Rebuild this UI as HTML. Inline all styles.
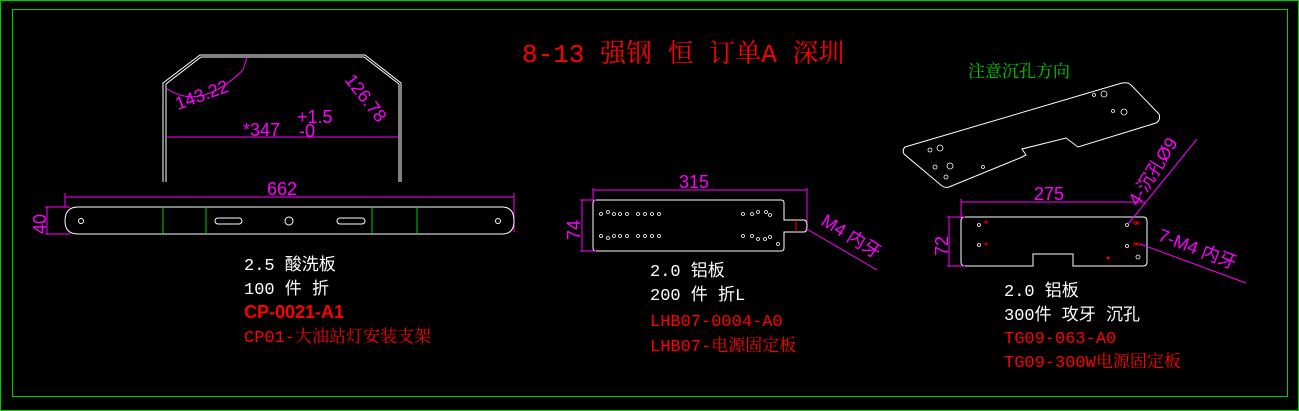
<!DOCTYPE html>
<html><head><meta charset="utf-8"><style>
html,body{margin:0;padding:0;background:#000;}
svg{display:block}
.w{fill:#fff;font-family:"Liberation Mono","Noto Sans CJK SC",monospace;font-size:17px}
.r{fill:#f00;font-family:"Liberation Mono","Noto Serif CJK SC",monospace;font-size:17px}
.m{fill:#f0f;font-family:"Liberation Sans","Noto Sans CJK SC",sans-serif;font-size:18px}
</style></head><body>
<svg width="1299" height="411" viewBox="0 0 1299 411" xmlns="http://www.w3.org/2000/svg">
<rect x="0.5" y="0.5" width="1298" height="410" fill="none" stroke="#0c0"/>
<rect x="12.5" y="9.5" width="1275" height="387" fill="none" stroke="#0c0"/>
<text x="522" y="62" fill="#f00" font-family="Liberation Mono,Noto Serif CJK SC,monospace" font-size="26">8-13 强钢 恒 订单A 深圳</text>

<!-- part 1 bent -->
<g fill="none" stroke="#fff" stroke-width="1">
<path d="M163,182 V83 L200,55 H365 L401,83 V182"/>
<path d="M166,182 V84 L201,57 H364 L399,84 V182"/>
</g>
<g stroke="#f0f" fill="none">
<line x1="166" y1="137" x2="398" y2="137"/>
<path d="M166,88 Q200,112 243,70"/>
<line x1="243" y1="70" x2="247" y2="57"/>
</g>
<text class="m" x="243" y="136" font-size="22">*347</text>
<text class="m" x="297" y="123" font-size="14">+1.5</text>
<text class="m" x="299" y="137" font-size="15">-0</text>
<text class="m" transform="translate(178,110) rotate(-20)" font-size="22">143.22</text>
<text class="m" transform="translate(344,80) rotate(52)" font-size="22">126.78</text>

<!-- part 1 flat -->
<line x1="65" y1="197" x2="514" y2="197" stroke="#f0f"/>
<line x1="65" y1="193" x2="65" y2="207" stroke="#f0f"/>
<line x1="514" y1="193" x2="514" y2="232" stroke="#f0f"/>
<text class="m" x="267" y="195" font-size="22">662</text>
<path d="M78,207 H502 Q514,207 514,221 Q514,234 502,234 H78 Q65,234 65,221 Q65,207 78,207Z" fill="none" stroke="#fff"/>
<g stroke="#0c0"><line x1="163" y1="207" x2="163" y2="234"/><line x1="206" y1="207" x2="206" y2="234"/><line x1="372" y1="207" x2="372" y2="234"/><line x1="417" y1="207" x2="417" y2="234"/></g>
<g fill="none" stroke="#fff">
<rect x="215" y="218" width="27" height="6" rx="3"/><rect x="337" y="218" width="28" height="6" rx="3"/>
<circle cx="289" cy="221" r="4"/><circle cx="81" cy="221" r="2.5"/><circle cx="498" cy="221" r="2.5"/>
</g>
<line x1="47" y1="207" x2="47" y2="234" stroke="#f0f"/>
<line x1="45" y1="207" x2="70" y2="207" stroke="#f0f"/><line x1="45" y1="234" x2="70" y2="234" stroke="#f0f"/>
<text class="m" transform="translate(46,234) rotate(-90)" font-size="20">40</text>
<text class="w" x="244" y="270">2.5 酸洗板</text>
<text class="w" x="244" y="294">100 件 折</text>
<text x="244" y="318" fill="#f00" font-family="Liberation Sans,sans-serif" font-size="18" font-weight="bold">CP-0021-A1</text>
<text class="r" x="244" y="342">CP01-大油站灯安装支架</text>

<!-- part 2 -->
<line x1="593" y1="190" x2="807" y2="190" stroke="#f0f"/>
<line x1="593" y1="188" x2="593" y2="200" stroke="#f0f"/><line x1="807" y1="188" x2="807" y2="226" stroke="#f0f"/>
<text class="m" x="679" y="188" font-size="21">315</text>
<path d="M596,200 H781 Q784,200 784,203 V220 H804 Q807,220 807,226 Q807,232 804,232 H784 V248 Q784,251 781,251 H596 Q593,251 593,248 V203 Q593,200 596,200Z" fill="none" stroke="#fff"/>
<line x1="796" y1="220" x2="796" y2="232" stroke="#f00"/>
<line x1="582" y1="200" x2="582" y2="251" stroke="#f0f"/>
<line x1="580" y1="200" x2="596" y2="200" stroke="#f0f"/><line x1="580" y1="251" x2="596" y2="251" stroke="#f0f"/>
<text class="m" transform="translate(580,240) rotate(-90)" font-size="20">74</text>
<line x1="805" y1="228" x2="877" y2="270" stroke="#f0f"/>
<text class="m" transform="translate(820,224) rotate(32)" font-size="18">M4 内牙</text>
<g fill="none" stroke="#fff" stroke-width="0.8">
<circle cx="601" cy="214" r="1.5"/><circle cx="608" cy="212" r="1.5"/><circle cx="614" cy="214" r="1.5"/><circle cx="620" cy="214" r="1.5"/><circle cx="627" cy="214" r="1.5"/><circle cx="638" cy="214" r="1.5"/><circle cx="645" cy="214" r="1.5"/><circle cx="652" cy="214" r="1.5"/><circle cx="659" cy="214" r="1.5"/>
<circle cx="601" cy="236" r="1.5"/><circle cx="608" cy="238" r="1.5"/><circle cx="614" cy="236" r="1.5"/><circle cx="620" cy="236" r="1.5"/><circle cx="627" cy="236" r="1.5"/><circle cx="638" cy="236" r="1.5"/><circle cx="645" cy="236" r="1.5"/><circle cx="652" cy="236" r="1.5"/><circle cx="659" cy="236" r="1.5"/>
<circle cx="743" cy="214" r="1.5"/><circle cx="752" cy="214" r="1.5"/><circle cx="758" cy="212" r="1.5"/><circle cx="766" cy="212" r="1.5"/><circle cx="770" cy="215" r="1.5"/>
<circle cx="743" cy="236" r="1.5"/><circle cx="752" cy="236" r="1.5"/><circle cx="758" cy="239" r="1.5"/><circle cx="765" cy="239" r="1.5"/><circle cx="770" cy="237" r="1.5"/><circle cx="778" cy="244" r="1.5"/>
</g>
<text class="w" x="650" y="276">2.0 铝板</text>
<text class="w" x="650" y="300">200 件 折L</text>
<text class="r" x="650" y="326">LHB07-0004-A0</text>
<text class="r" x="650" y="351">LHB07-电源固定板</text>

<!-- part 3 -->
<text x="968" y="77" fill="#0c0" font-family="Liberation Serif,Noto Serif CJK SC,serif" font-size="17">注意沉孔方向</text>
<path d="M905,147 L1122,83 Q1128,82 1131,85 L1159,114 Q1161,120 1156,123 L1078,147 L1066,138 L1022,149 L1026,155 L1020,158 L949,187 Q945,188 942,186 L904,154 Q902,150 905,147Z" fill="none" stroke="#fff"/>
<g fill="none" stroke="#fff" stroke-width="0.8">
<circle cx="930" cy="150" r="2"/><circle cx="940" cy="148" r="3"/><circle cx="935" cy="167" r="2"/><circle cx="950" cy="166" r="3"/><circle cx="946" cy="177" r="2"/><circle cx="983" cy="167" r="1.5"/>
<circle cx="1094" cy="95" r="1.5"/><circle cx="1104" cy="94" r="3"/><circle cx="1113" cy="111" r="1.5"/><circle cx="1124" cy="112" r="3"/>
</g>
<line x1="961" y1="202" x2="1145" y2="202" stroke="#f0f"/>
<line x1="961" y1="199" x2="961" y2="218" stroke="#f0f"/>
<text class="m" x="1034" y="200" font-size="21">275</text>
<path d="M965,217 H1143 Q1147,217 1147,221 V262 Q1147,266 1143,266 H1073 V254 H1033 V266 H965 Q961,266 961,262 V221 Q961,217 965,217Z" fill="none" stroke="#fff"/>
<g fill="none" stroke="#fff" stroke-width="0.8"><circle cx="979" cy="225" r="1.5"/><circle cx="979" cy="245" r="1.5"/><circle cx="1127" cy="225" r="1.5"/><circle cx="1127" cy="246" r="1.5"/><circle cx="1138" cy="257" r="2"/></g>
<g fill="none" stroke="#f00" stroke-width="0.8"><circle cx="986" cy="222" r="1.2"/><circle cx="986" cy="244" r="1.2"/><circle cx="1135" cy="223" r="1.2"/><circle cx="1138" cy="223" r="1.2"/><circle cx="1135" cy="244" r="1.2"/><circle cx="1138" cy="244" r="1.2"/></g>
<circle cx="1108" cy="258" r="1.5" fill="#f00"/>
<line x1="949" y1="217" x2="949" y2="266" stroke="#f0f"/>
<line x1="947" y1="217" x2="965" y2="217" stroke="#f0f"/><line x1="947" y1="266" x2="965" y2="266" stroke="#f0f"/>
<text class="m" transform="translate(948,256) rotate(-90)" font-size="20">72</text>
<line x1="1128" y1="224" x2="1197" y2="139" stroke="#f0f"/>
<text class="m" transform="translate(1138,207) rotate(-58)" font-size="18">4-沉孔Ø9</text>
<line x1="1140" y1="244" x2="1246" y2="283" stroke="#f0f"/>
<text class="m" transform="translate(1157,240) rotate(21)" font-size="18">7-M4 内牙</text>
<text class="w" x="1004" y="296">2.0 铝板</text>
<text class="w" x="1004" y="320">300件 攻牙 沉孔</text>
<text class="r" x="1004" y="343">TG09-063-A0</text>
<text class="r" x="1004" y="367">TG09-300W电源固定板</text>
</svg>
</body></html>
